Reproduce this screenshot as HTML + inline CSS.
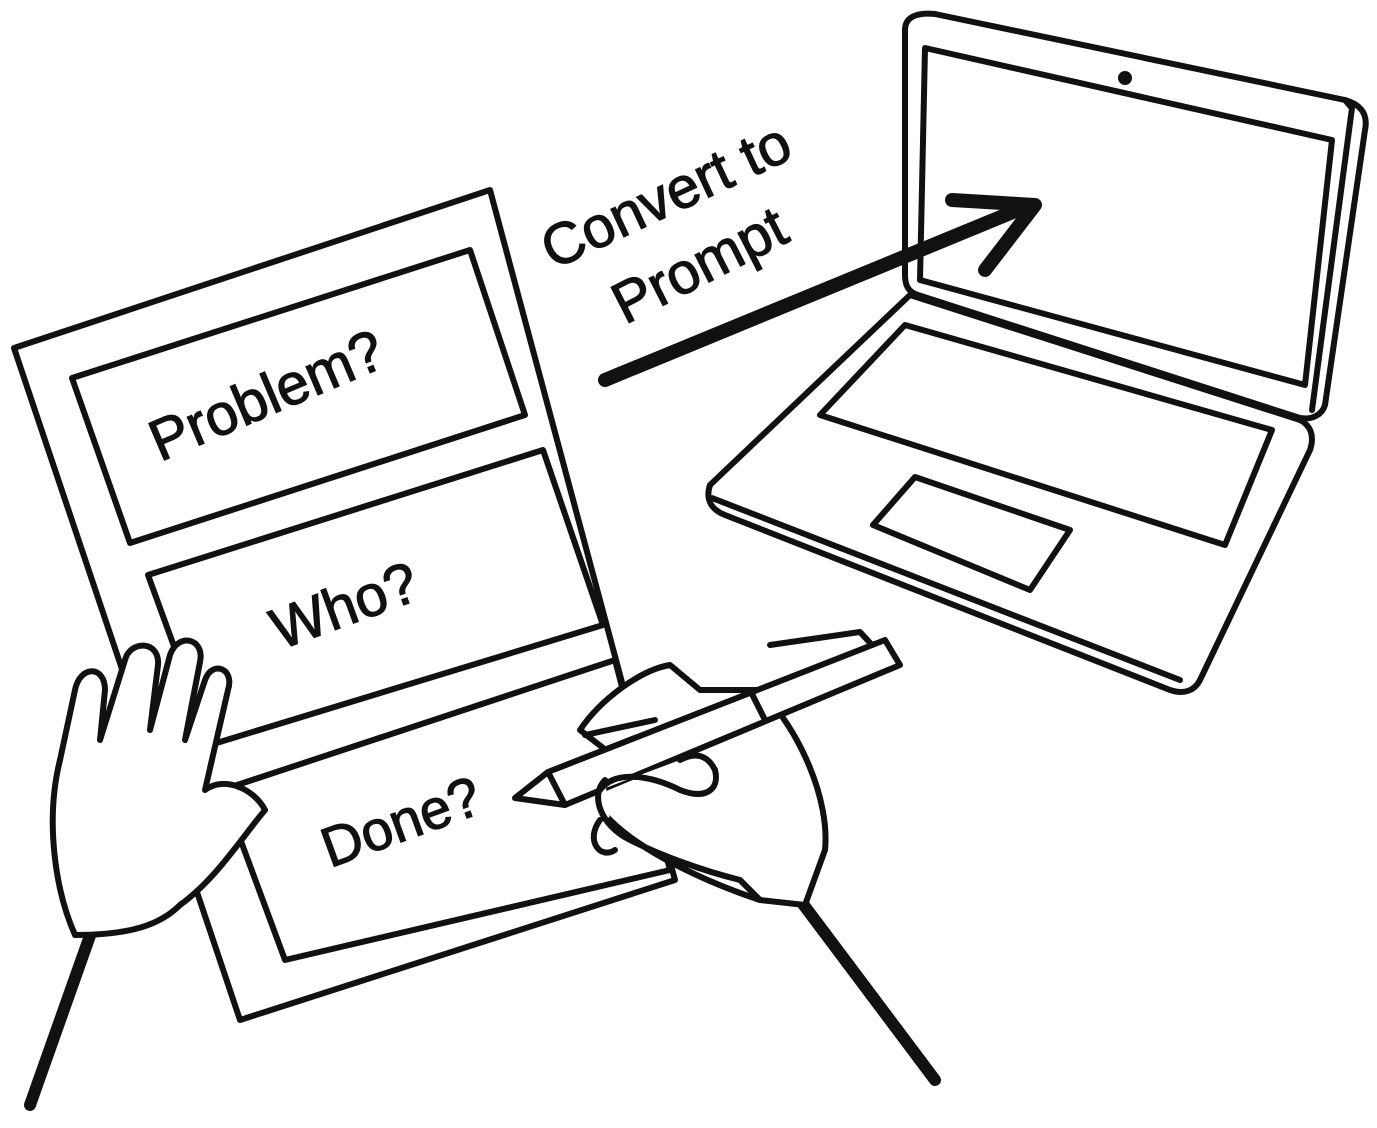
<!DOCTYPE html>
<html><head><meta charset="utf-8"><style>
html,body{margin:0;padding:0;background:#fff}
svg{display:block}
text{font-family:"Liberation Sans",sans-serif;fill:#111;stroke:#111;stroke-width:1.2}
</style></head><body>
<svg width="1377" height="1128" viewBox="0 0 1377 1128" xmlns="http://www.w3.org/2000/svg">
<g fill="none" stroke="#111" stroke-width="6" stroke-linejoin="round" stroke-linecap="round">
<path d="M14,348 L490,190 L675,880 L240,1020 Z" fill="#fff"/>
<path d="M72,378 L470,250 L525,415 L130,543 Z"/>
<path d="M148,575 L543,450 L603,625 L210,745 Z"/>
<path d="M222,790 L615,660 L670,870 L285,960 Z"/>
<path d="M910,295 L710,485 C705,500 712,510 725,515 L1170,690 C1185,695 1195,690 1200,680 L1310,450 C1315,435 1310,425 1300,420 Z" fill="#fff"/>
<path d="M712,498 L1180,680"/>
<path d="M820,415 L905,325 L1272,430 L1225,545 Z"/>
<path d="M873,525 L915,477 L1070,530 L1030,590 Z"/>
<path d="M905,30 C905,18 915,12 935,14 L1345,100 C1362,105 1368,115 1365,130 L1325,405 C1322,415 1312,420 1300,418 L918,295 C908,292 905,285 905,275 Z" fill="#fff"/>
<path d="M1345,100 L1352,108 L1312,410"/>
<path d="M925,48 L1332,140 L1305,385 L920,280 Z"/>
<circle cx="1125" cy="78" r="4" fill="#111"/>
<path d="M605,380 L1030,205" stroke-width="14"/>
<path d="M952,200 L1035,205 L985,270" stroke-width="14"/>
<path d="M92,930 L30,1105" stroke-width="12"/>
<path d="M800,900 L935,1080" stroke-width="12"/>
<path d="M75,935 C55,890 45,820 60,760 L75,690 C80,665 105,665 105,690 L100,740 L125,660 C130,640 160,640 158,665 L150,730 L170,655 C178,632 205,638 200,662 L185,740 L205,680 C212,660 235,668 228,690 L205,790 C225,775 255,790 265,810 C240,840 215,880 180,905 C160,925 130,935 75,935 Z" fill="#fff"/>
<path d="M580,730 C600,700 640,670 670,665 L700,690 L760,690 C800,730 830,800 825,850 L805,905 L760,900 C700,880 640,850 610,820 C590,800 600,770 625,765 Z" fill="#fff"/>
<path d="M548,772 L885,640 L900,665 L565,805 Z" fill="#fff"/>
<path d="M548,772 L515,798 L565,805"/>
<path d="M770,645 L860,632 L872,645"/>
<path d="M750,690 L765,720"/>
<path d="M605,780 C590,795 600,825 630,840 C660,855 700,870 740,880 L760,900 C700,880 640,850 610,820" fill="#fff"/>
<path d="M600,790 C615,770 650,775 680,790 C705,800 720,790 715,770 C705,750 690,755 680,760" fill="#fff"/>
<path d="M585,735 L655,720"/>
<path d="M600,820 C585,840 600,860 615,850"/>
</g>
<text x="0" y="0" font-size="58" transform="translate(160,462) rotate(-23)">Problem?</text>
<text x="0" y="0" font-size="58" transform="translate(280,650) rotate(-20)">Who?</text>
<text x="0" y="0" font-size="56" transform="translate(330,868) rotate(-20)">Done?</text>
<text x="0" y="0" font-size="58" transform="translate(553,270) rotate(-25)">Convert to</text>
<text x="0" y="0" font-size="58" transform="translate(625,325) rotate(-27)">Prompt</text>
</svg>
</body></html>
